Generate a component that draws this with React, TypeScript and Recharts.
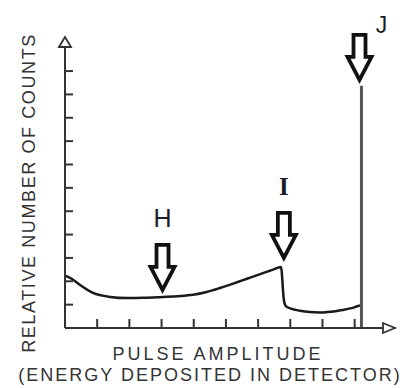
import React from 'react';
import { LineChart, Line, XAxis, YAxis, ReferenceDot } from 'recharts';

// pulse amplitude in x-tick units, relative counts in y-tick units
const continuumAmp = [0, 0.22, 0.47, 0.87, 1.4, 1.93, 2.45, 2.95, 3.48, 3.98, 4.4, 4.81, 5.18, 5.53, 5.85, 6.15, 6.45, 6.71, 6.8, 6.86, 7.02, 7.3, 7.61, 7.9, 8.14, 8.4, 8.63, 8.9, 9.1, 9.21];
const continuumCounts = [2.24, 2.1, 1.84, 1.5, 1.33, 1.28, 1.29, 1.32, 1.36, 1.42, 1.54, 1.71, 1.88, 2.05, 2.2, 2.35, 2.49, 2.61, 1.2, 0.94, 0.83, 0.74, 0.68, 0.66, 0.68, 0.72, 0.77, 0.85, 0.94, 0.98];

const peakAmp = [9.21, 9.21];
const peakCounts = [0, 10.37];

const xTicks = [1, 2, 3, 4, 5, 6, 7, 8, 9];
const yTicks = [1, 2, 3, 4, 5, 6, 7, 8, 9, 10, 11];
const X_END = 9.88;
const Y_END = 12.03;

const markerNames = ['H', 'I', 'J'];
const markerAmp = [3.03, 6.8, 9.15];
const markerCounts = [1.63, 3.0, 10.62];

const continuum = continuumAmp.map((x, i) => ({ x, y: continuumCounts[i] }));
const peak = peakAmp.map((x, i) => ({ x, y: peakCounts[i] }));
const markers = markerNames.map((name, i) => ({ name, x: markerAmp[i], y: markerCounts[i] }));

const INK = '#1c1c24';
const AXIS = '#333';

// where each letter sits relative to its arrow tip
const labelOffset: Record<string, { dx: number; dy: number; size: number; weight: number; font: string }> = {
  H: { dx: 0, dy: -63, size: 25, weight: 400, font: '"Liberation Sans", Arial, sans-serif' },
  I: { dx: 0, dy: -63, size: 25, weight: 600, font: '"Liberation Serif", serif' },
  J: { dx: 22, dy: -47, size: 23, weight: 400, font: '"Liberation Sans", Arial, sans-serif' },
};

const HollowArrow = ({ cx, cy, name }: any) => {
  const o = labelOffset[name];
  const d = `M${cx} ${cy} L${cx - 12} ${cy - 23} L${cx - 6} ${cy - 23} L${cx - 6} ${cy - 45} L${cx + 6} ${cy - 45} L${cx + 6} ${cy - 23} L${cx + 12} ${cy - 23} Z`;
  return (
    <g>
      <path d={d} fill="#fff" stroke="#111" strokeWidth={3.8} strokeLinejoin="miter" />
      <text x={cx + o.dx} y={cy + o.dy} textAnchor="middle" fontSize={o.size} fontWeight={o.weight} fontFamily={o.font} fill={INK}>
        {name}
      </text>
    </g>
  );
};

const XTick = ({ x, y }: any) => <line x1={x} y1={y} x2={x} y2={y - 9} stroke={AXIS} strokeWidth={2} />;
const YTick = ({ x, y }: any) => <line x1={x} y1={y} x2={x + 8} y2={y} stroke={AXIS} strokeWidth={2} />;

const XHead = ({ cx, cy }: any) => (
  <path d={`M${cx} ${cy - 5} L${cx + 12} ${cy} L${cx} ${cy + 5} Z`} fill="#fff" stroke={AXIS} strokeWidth={1.8} />
);
const YHead = ({ cx, cy }: any) => (
  <path d={`M${cx - 6} ${cy} L${cx} ${cy - 10} L${cx + 6} ${cy} Z`} fill="#fff" stroke={AXIS} strokeWidth={1.8} />
);

const titleStyle: React.CSSProperties = {
  position: 'absolute',
  fontSize: 18,
  lineHeight: '20px',
  height: 20,
  whiteSpace: 'nowrap',
  textAlign: 'center',
  color: '#333',
};

export default function App() {
  return (
    <div style={{ position: 'absolute', left: 0, top: 0, width: 409, height: 388, background: '#fff', fontFamily: '"Liberation Sans", Arial, sans-serif' }}>
      <LineChart width={409} height={388} margin={{ top: 47, right: 26, bottom: 59, left: 64 }}>
        <XAxis
          type="number"
          dataKey="x"
          domain={[0, X_END]}
          ticks={xTicks}
          interval={0}
          height={1}
          tickSize={0}
          tickMargin={0}
          tickLine={false}
          axisLine={{ stroke: AXIS, strokeWidth: 2 }}
          tick={XTick}
        />
        <YAxis
          type="number"
          dataKey="y"
          domain={[0, Y_END]}
          ticks={yTicks}
          interval={0}
          width={1}
          tickSize={0}
          tickMargin={0}
          tickLine={false}
          axisLine={{ stroke: AXIS, strokeWidth: 2 }}
          tick={YTick}
        />
        <Line data={continuum} dataKey="y" type="monotone" stroke="#1a1a1a" strokeWidth={2.5} dot={false} isAnimationActive={false} />
        <Line data={peak} dataKey="y" type="linear" stroke="#555" strokeWidth={3} dot={false} isAnimationActive={false} />
        <ReferenceDot x={X_END} y={0} r={0} ifOverflow="visible" shape={XHead} />
        <ReferenceDot x={0} y={Y_END} r={0} ifOverflow="visible" shape={YHead} />
        {markers.map(m => (
          <ReferenceDot key={m.name} x={m.x} y={m.y} r={0} ifOverflow="visible" shape={(p: any) => <HollowArrow {...p} name={m.name} />} />
        ))}
      </LineChart>

      <div style={{ ...titleStyle, width: 340, left: 28.5 - 170, top: 192.5 - 10, letterSpacing: 1.6, transform: 'rotate(-90deg)' }}>
        RELATIVE NUMBER OF COUNTS
      </div>
      <div style={{ ...titleStyle, width: 300, left: 218 - 150, top: 344, letterSpacing: 3 }}>
        PULSE AMPLITUDE
      </div>
      <div style={{ ...titleStyle, width: 409, left: 210 - 204.5, top: 365, letterSpacing: 2 }}>
        (ENERGY DEPOSITED IN DETECTOR)
      </div>
    </div>
  );
}
